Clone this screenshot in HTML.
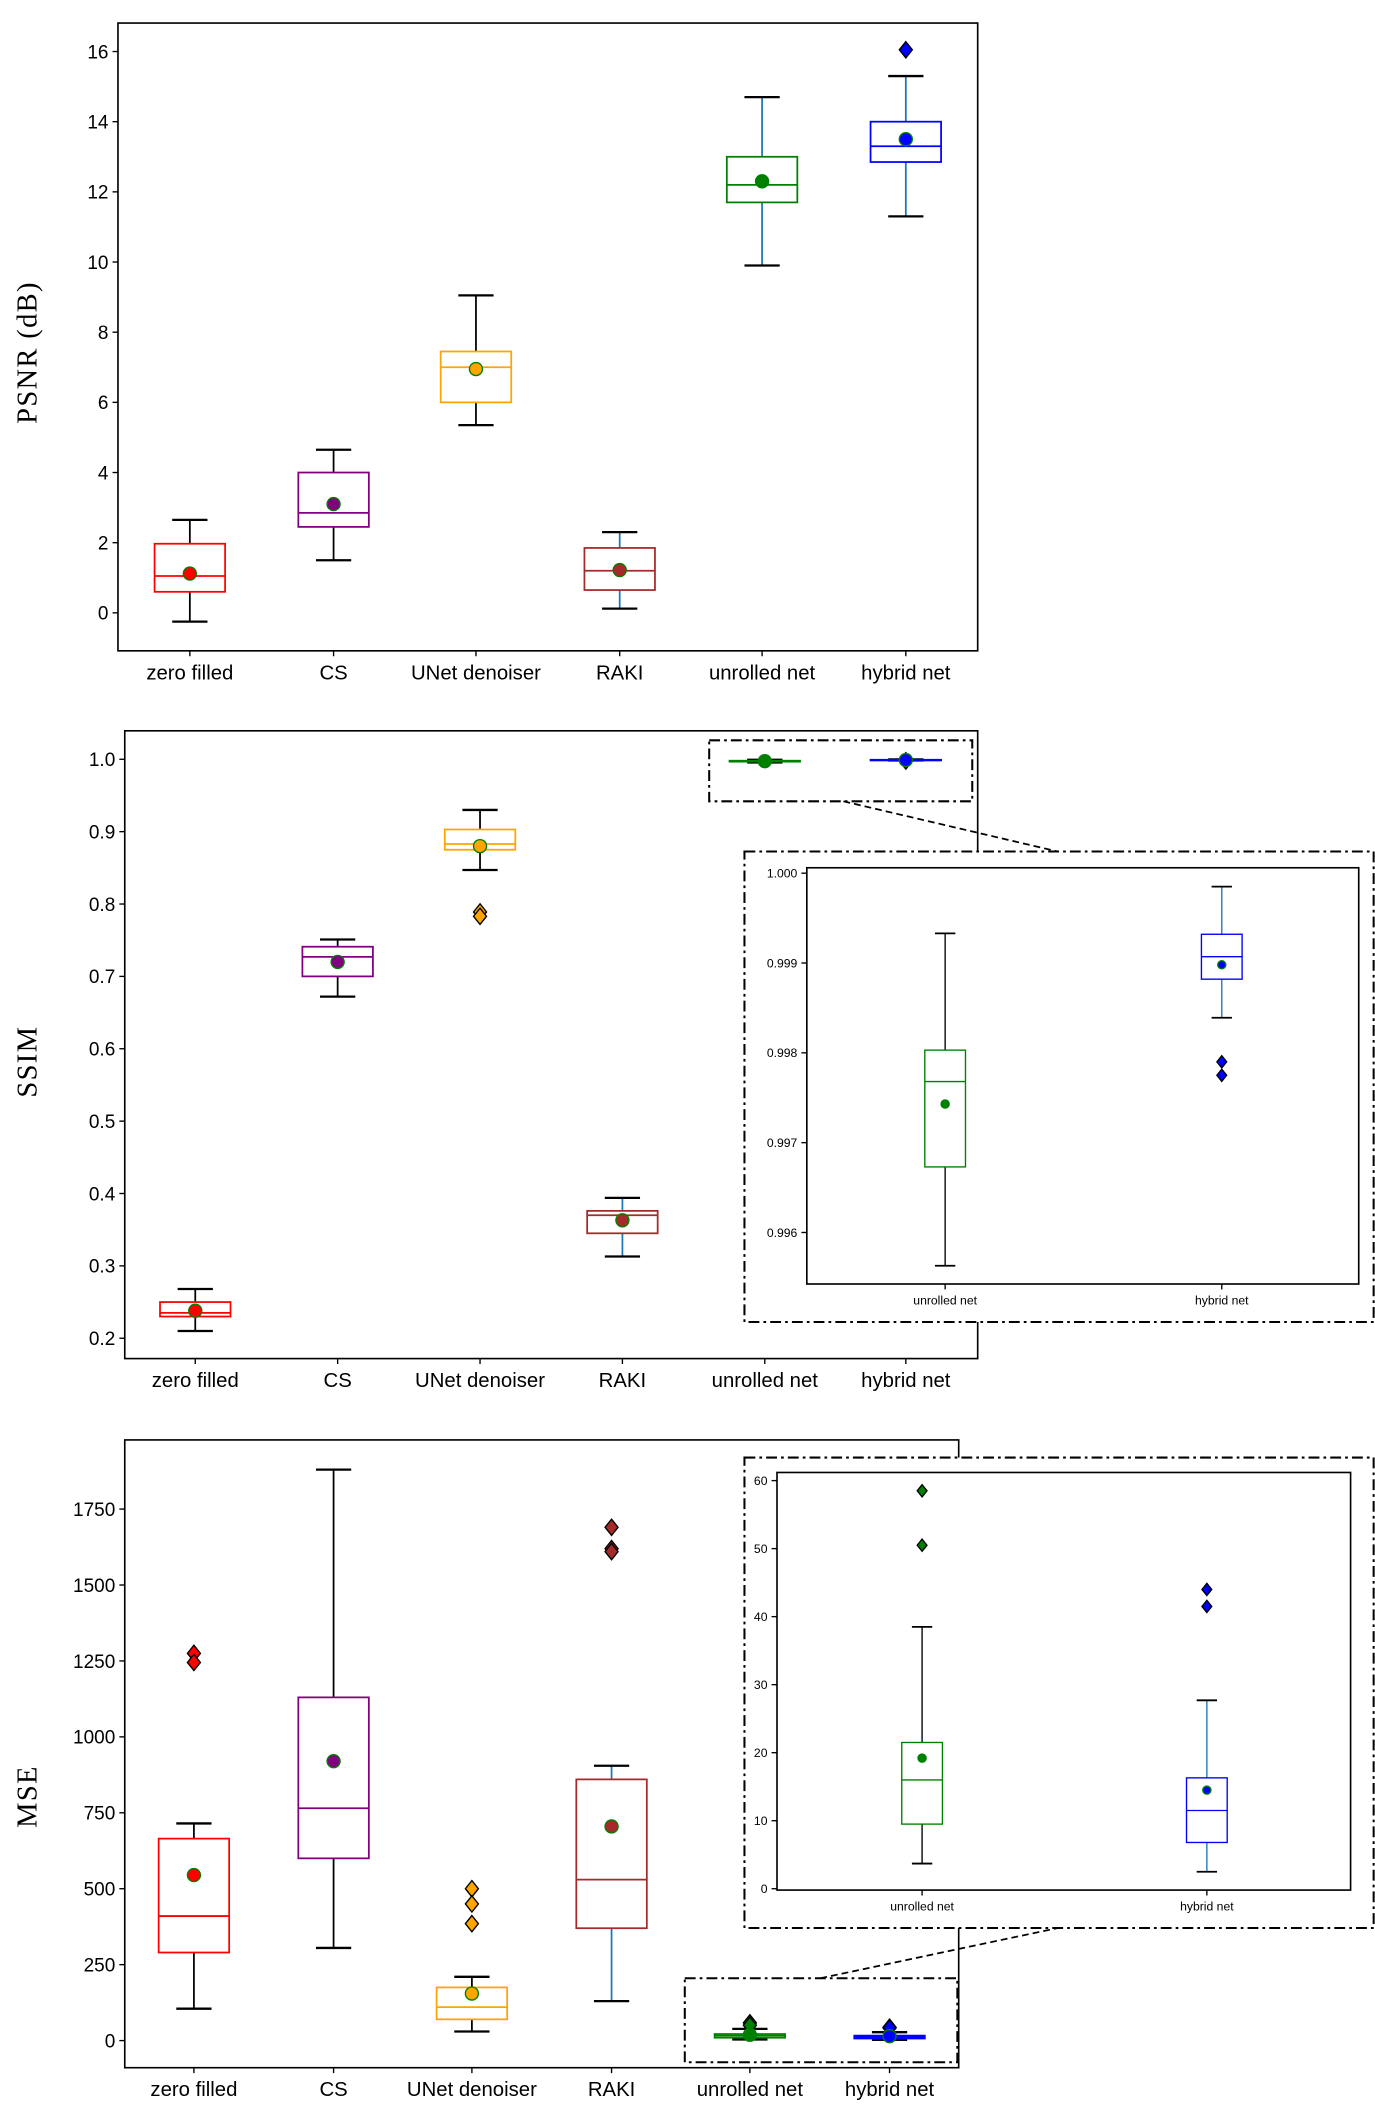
<!DOCTYPE html>
<html><head><meta charset="utf-8"><style>
html,body{margin:0;padding:0;background:#fff}
svg{display:block}
text{font-family:"Liberation Sans","DejaVu Sans",sans-serif;fill:#000}
.serif{font-family:"Liberation Serif","DejaVu Serif",serif}
</style></head><body>
<svg id="fig" xmlns="http://www.w3.org/2000/svg" width="1375" height="2126" viewBox="0 0 1014 1568" preserveAspectRatio="none"></svg>
<script>
// ---- data ----
const categories = ["zero filled","CS","UNet denoiser","RAKI","unrolled net","hybrid net"];
const colors = ["red","purple","orange","brown","green","blue"];
// PSNR stats: [whislo, q1, med, q3, whishi]
const psnrStats = [[-0.25,0.6,1.05,1.97,2.65],[1.5,2.45,2.85,4.0,4.65],[5.35,6.0,7.0,7.45,9.05],[0.12,0.65,1.2,1.85,2.3],[9.9,11.7,12.2,13.0,14.7],[11.3,12.85,13.3,14.0,15.3]];
const psnrMeans = [1.12,3.1,6.95,1.22,12.3,13.5];
const psnrFliers = [[],[],[],[],[],[16.05]];
const psnrTicks = [0,2,4,6,8,10,12,14,16];
// SSIM
const ssimStats = [[0.21,0.23,0.235,0.25,0.268],[0.672,0.700,0.727,0.741,0.751],[0.847,0.875,0.883,0.903,0.930],[0.313,0.345,0.370,0.376,0.394],[0.99563,0.99673,0.99768,0.99803,0.99933],[0.99839,0.99882,0.99907,0.99932,0.99985]];
const ssimMeans = [0.238,0.720,0.880,0.363,0.99743,0.99898];
const ssimFliers = [[],[],[0.789,0.783],[],[],[0.99790,0.99775]];
const ssimTicks = [0.2,0.3,0.4,0.5,0.6,0.7,0.8,0.9,1.0];
const ssimInsetTicks = [0.996,0.997,0.998,0.999,1.000];
// MSE
const mseStats = [[105,290,410,665,715],[305,600,765,1130,1880],[30,70,110,175,210],[130,370,530,860,905],[3.7,9.5,16,21.5,38.5],[2.5,6.8,11.5,16.3,27.7]];
const mseMeans = [545,920,155,705,19.2,14.5];
const mseFliers = [[1275,1245],[],[500,450,385],[1690,1620,1610],[58.5,50.5],[44,41.5]];
const mseTicks = [0,250,500,750,1000,1250,1500,1750];
const mseInsetTicks = [0,10,20,30,40,50,60];

const NS="http://www.w3.org/2000/svg";
const fig=document.getElementById('fig');
function el(tag,attrs,parent){const e=document.createElementNS(NS,tag);for(const k in attrs)e.setAttribute(k,attrs[k]);(parent||fig).appendChild(e);return e;}
function lin(v0,p0,v1,p1){return v=>p0+(v-v0)*(p1-p0)/(v1-v0);}
const whiskColors=["#000","#000","#000","#1f77b4","#1f77b4","#1f77b4"];

function boxplot(g,x,y,st,mean,fl,col,wcol,bw,lw,mr,dr,name){
  const grp=el('g',{},g);
  
  
  el('line',{x1:x,x2:x,y1:y(st[0]),y2:y(st[1]),stroke:wcol,'stroke-width':lw},grp);
  el('line',{x1:x,x2:x,y1:y(st[3]),y2:y(st[4]),stroke:wcol,'stroke-width':lw},grp);
  const cw=bw*0.5;
  el('line',{x1:x-cw/2,x2:x+cw/2,y1:y(st[0]),y2:y(st[0]),stroke:'#000','stroke-width':lw*1.3},grp);
  el('line',{x1:x-cw/2,x2:x+cw/2,y1:y(st[4]),y2:y(st[4]),stroke:'#000','stroke-width':lw*1.3},grp);
  el('rect',{x:x-bw/2,y:y(st[3]),width:bw,height:Math.max(0.5,y(st[1])-y(st[3])),fill:'none',stroke:col,'stroke-width':lw},grp);
  el('line',{x1:x-bw/2,x2:x+bw/2,y1:y(st[2]),y2:y(st[2]),stroke:col,'stroke-width':lw},grp);
  fl.forEach(v=>{const yy=y(v);el('polygon',{points:`${x},${yy-dr} ${x+dr*0.8},${yy} ${x},${yy+dr} ${x-dr*0.8},${yy}`,fill:col,stroke:'#000','stroke-width':1},grp);});
  el('circle',{cx:x,cy:y(mean),r:mr,fill:col,stroke:'green','stroke-width':1},grp);
}
function frame(x0,y0,x1,y1,name){const r=el('rect',{x:x0,y:y0,width:x1-x0,height:y1-y0,fill:'none',stroke:'#000','stroke-width':1.2});}
function dashrect(x0,y0,x1,y1,name){const r=el('rect',{x:x0,y:y0,width:x1-x0,height:y1-y0,fill:'#fff',stroke:'#000','stroke-width':1.5,'stroke-dasharray':'8,3,2,3'});}
function yticks(ticks,y,x0,fmt,fs,name){ticks.forEach(t=>{el('line',{x1:x0-4,x2:x0,y1:y(t),y2:y(t),stroke:'#000','stroke-width':1});const tx=el('text',{x:x0-7,y:y(t)+fs*0.36,'font-size':fs,'text-anchor':'end'});tx.textContent=fmt(t);});}
function xticks(labels,xs,y0,fs,name){labels.forEach((l,i)=>{el('line',{x1:xs[i],x2:xs[i],y1:y0,y2:y0+4,stroke:'#000','stroke-width':1});const tx=el('text',{x:xs[i],y:y0+fs+6,'font-size':fs,'text-anchor':'middle'});tx.textContent=l;});}
function ylabel(txt,x,y,name){const t=el('text',{x:x,y:y,'font-size':21,'text-anchor':'middle','letter-spacing':'1',transform:`rotate(-90 ${x} ${y})`,class:'serif'});t.textContent=txt;}
function dashline(x1,y1,x2,y2){el('line',{x1,y1,x2,y2,stroke:'#000','stroke-width':1.3,'stroke-dasharray':'5,3'});}

// ---- PSNR ----
(function(){
  const y=lin(0,452,16,38);
  const xs=[140,246,351,457,562,668];
  const g=el('g',{});
  categories.forEach((c,i)=>boxplot(g,xs[i],y,psnrStats[i],psnrMeans[i],psnrFliers[i],colors[i],whiskColors[i],52,1.3,4.8,6,'psnr-box-'+i));
  frame(87,17,721,480,'psnr-axes');
  yticks(psnrTicks,y,87,t=>String(t),14,'psnr-y-tick');
  xticks(categories,xs,480,15,'psnr-x-tick');
  ylabel('PSNR (dB)',27,260,'psnr-y-axis-title');
})();

// ---- SSIM ----
(function(){
  const y=lin(1.0,560,0.2,987);
  const xs=[144,249,354,459,564,668];
  const g=el('g',{});
  categories.forEach((c,i)=>boxplot(g,xs[i],y,ssimStats[i],ssimMeans[i],ssimFliers[i],colors[i],whiskColors[i],52,1.3,4.8,6,'ssim-box-'+i));
  frame(92,539,721,1002,'ssim-axes');
  yticks(ssimTicks,y,92,t=>t.toFixed(1),14,'ssim-y-tick');
  xticks(categories,xs,1002,15,'ssim-x-tick');
  ylabel('SSIM',27,783,'ssim-y-axis-title');
  const zr=el('rect',{x:523,y:546,width:194,height:45,fill:'none',stroke:'#000','stroke-width':1.5,'stroke-dasharray':'8,3,2,3'});
  
  dashline(622,591,780,628);
  dashrect(549,628,1013,975,'ssim-inset-border');
  const yi=lin(1.0,644,0.996,909);
  const xi=[697,901];
  const gi=el('g',{});
  [4,5].forEach((k,j)=>boxplot(gi,xi[j],yi,ssimStats[k],ssimMeans[k],ssimFliers[k],colors[k],whiskColors[k===4?0:5],30,1,3,4.5,'ssim-inset-box-'+j));
  frame(595,640,1002,947,'ssim-inset-axes');
  yticks(ssimInsetTicks,yi,595,t=>t.toFixed(3),9,'ssim-inset-y-tick');
  xticks(["unrolled net","hybrid net"],xi,947,9,'ssim-inset-x-tick');
})();

// ---- MSE ----
(function(){
  const y=lin(0,1505,1750,1113);
  const xs=[143,246,348,451,553,656];
  const g=el('g',{});
  categories.forEach((c,i)=>boxplot(g,xs[i],y,mseStats[i],mseMeans[i],mseFliers[i],colors[i],whiskColors[i],52,1.3,4.8,6,'mse-box-'+i));
  frame(92,1062,707,1525,'mse-axes');
  yticks(mseTicks,y,92,t=>String(t),14,'mse-y-tick');
  xticks(categories,xs,1525,15,'mse-x-tick');
  ylabel('MSE',27,1325,'mse-y-axis-title');
  const zr=el('rect',{x:505,y:1459,width:201,height:62,fill:'none',stroke:'#000','stroke-width':1.5,'stroke-dasharray':'8,3,2,3'});
  
  dashline(605,1459,780,1422);
  dashrect(549,1075,1013,1422,'mse-inset-border');
  const yi=lin(0,1393,60,1092);
  const xi=[680,890];
  const gi=el('g',{});
  [4,5].forEach((k,j)=>boxplot(gi,xi[j],yi,mseStats[k],mseMeans[k],mseFliers[k],colors[k],whiskColors[k===4?0:5],30,1,3,4.5,'mse-inset-box-'+j));
  frame(573,1086,996,1394,'mse-inset-axes');
  yticks(mseInsetTicks,yi,573,t=>String(t),9,'mse-inset-y-tick');
  xticks(["unrolled net","hybrid net"],xi,1394,9,'mse-inset-x-tick');
})();
</script>
</body></html>
